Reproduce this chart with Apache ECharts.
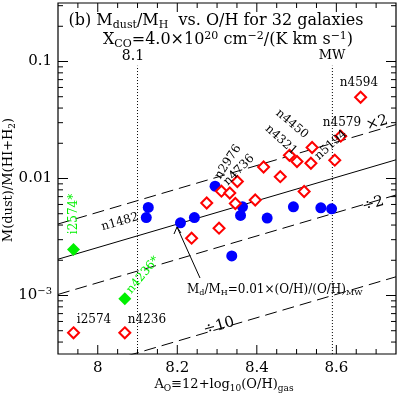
<!DOCTYPE html>
<html><head><meta charset="utf-8">
<script src="https://cdn.jsdelivr.net/npm/echarts/dist/echarts.min.js"></script>
<style>html,body{margin:0;padding:0;background:#fff}#c{width:397px;height:397px}</style>
</head><body><div id="c"></div>
<script>
// ---- data (12+log10(O/H), Mdust/M(HI+H2)) ----
const blueOH    = [8.127, 8.122, 8.208, 8.243, 8.295, 8.364, 8.359, 8.426, 8.492, 8.561, 8.588, 8.337];
const blueRatio = [0.00566, 0.00464, 0.00418, 0.00464, 0.00859, 0.00573, 0.00483, 0.00459, 0.00573, 0.00562, 0.00551, 0.00218];
const redOH     = [8.274, 8.311, 8.332, 8.351, 8.346, 8.305, 8.236, 8.396, 8.417, 8.459, 8.519, 8.482, 8.501, 8.536, 8.539, 8.596, 8.611, 8.661, 7.939, 8.068];
const redRatio  = [0.00617, 0.00779, 0.00752, 0.00943, 0.00611, 0.00376, 0.00309, 0.00655, 0.01254, 0.01036, 0.00774, 0.01579, 0.01397, 0.01349, 0.0184, 0.01434, 0.0230, 0.0495, 0.00048, 0.00048];
const greenOH    = [7.939, 8.068];
const greenRatio = [0.00247, 0.000937];
// reference relation Md/MH = 0.01 (O/H)/(O/H)_MW and factors x2, /2, /10
const refOH      = [7.9, 8.75];
const refRatio   = [0.002042, 0.014454];
const x2Ratio    = [0.004083, 0.028907];
const halfRatio  = [0.001021, 0.007227];
const tenthRatio = [0.0002042, 0.0014454];
const vLineOH81 = [8.1, 8.1];
const vLineOHMW = [8.59, 8.59];
const vLineRatio = [0.000316, 0.092];
// ticks
const xTickLabels = [8, 8.2, 8.4, 8.6];
const xMajorTicks = [8.0, 8.2, 8.4, 8.6];
const xMinorTicks = [7.95, 8.05, 8.1, 8.15, 8.25, 8.3, 8.35, 8.45, 8.5, 8.55, 8.65, 8.7];
const yMajorTicks = [0.001, 0.01, 0.1];
const yMinorTicks = [0.0004,0.0005,0.0006,0.0007,0.0008,0.0009,0.002,0.003,0.004,0.005,0.006,0.007,0.008,0.009,0.02,0.03,0.04,0.05,0.06,0.07,0.08,0.09,0.2,0.3];

const FF = '"DejaVu Serif", serif';
const GREEN = '#00f000';
const chart = echarts.init(document.getElementById('c'), null, {renderer:'canvas'});
const zip = (a,b) => a.map((v,i)=>[v,b[i]]);

function xTickSeries(vals, len){
  return {type:'custom', silent:true, clip:false, z:5,
    data: vals.map(v=>[v,0.01]),
    renderItem(params, api){
      const cs = params.coordSys;
      const x = api.coord([api.value(0), 0.01])[0];
      const st = {stroke:'#000', lineWidth:1};
      return {type:'group', children:[
        {type:'line', shape:{x1:x,y1:cs.y+cs.height,x2:x,y2:cs.y+cs.height-len}, style:st},
        {type:'line', shape:{x1:x,y1:cs.y,x2:x,y2:cs.y+len}, style:st}]};
    }};
}
function yTickSeries(vals, len){
  return {type:'custom', silent:true, clip:false, z:5,
    data: vals.map(v=>[8.2,v]),
    renderItem(params, api){
      const cs = params.coordSys;
      const y = api.coord([8.2, api.value(1)])[1];
      const st = {stroke:'#000', lineWidth:1};
      return {type:'group', children:[
        {type:'line', shape:{x1:cs.x,y1:y,x2:cs.x+len,y2:y}, style:st},
        {type:'line', shape:{x1:cs.x+cs.width,y1:y,x2:cs.x+cs.width-len,y2:y}, style:st}]};
    }};
}
function txt(x,y,text,opt){
  opt = opt||{};
  const size = opt.size||12;
  const col = opt.color||'#000';
  const ss = Math.round(size*0.66);
  const r = {
    sub:{fontFamily:FF, fontSize:ss, padding:[Math.round(size*0.5),0,0,0], fill:col},
    sup:{fontFamily:FF, fontSize:ss, padding:[0,0,Math.round(size*0.5),0], fill:col}
  };
  return {type:'text', x, y, rotation:(opt.rot||0)*Math.PI/180, z:20, silent:true,
    style:{text, fill:col, fontFamily:FF, fontSize:size,
      align:opt.align||'center', textAlign:opt.align||'center',
      verticalAlign:'middle', textVerticalAlign:'middle', rich:r}};
}
function lineS(xs, ys, type, width){
  return {type:'line', data: zip(xs,ys), symbol:'none', silent:true, z:2,
    lineStyle:{color:'#000', width: width||1, type}};
}
const option = {
  animation:false,
  grid:{left:58, top:3, right:1, bottom:43, show:true, borderColor:'#000', borderWidth:1.2},
  xAxis:{type:'value', min:7.9, max:8.75, interval:0.05,
    axisLine:{show:false}, axisTick:{show:false}, splitLine:{show:false},
    axisLabel:{margin:7, fontFamily:FF, fontSize:15, color:'#000', showMinLabel:false, showMaxLabel:false,
      formatter:v=>{ const m = xTickLabels.find(t=>Math.abs(t-v)<1e-6); return m===undefined?'':String(m);} }},
  yAxis:{type:'log', logBase:10, min:Math.pow(10,-3.5), max:Math.pow(10,-0.5),
    axisLine:{show:false}, axisTick:{show:false}, splitLine:{show:false},
    axisLabel:{margin:6, fontFamily:FF, fontSize:15, color:'#000', showMinLabel:false, showMaxLabel:false,
      rich:{sup:{fontFamily:FF, fontSize:10, padding:[0,0,8,0], color:'#000'}, b:{fontFamily:FF,fontSize:15,color:'#000'}},
      formatter:v=>{
        const l = Math.log10(v);
        if (Math.abs(l+1)<1e-6) return '0.1';
        if (Math.abs(l+2)<1e-6) return '0.01';
        if (Math.abs(l+3)<1e-6) return '{b|10}{sup|−3}';
        return '';
      }}},
  series:[
    lineS(refOH, refRatio, 'solid', 1),
    lineS(refOH, x2Ratio, [12,6], 1),
    lineS(refOH, halfRatio, [12,6], 1),
    lineS(refOH, tenthRatio, [12,6], 1),
    lineS(vLineOH81, vLineRatio, [1,2], 1),
    lineS(vLineOHMW, vLineRatio, [1,2], 1),
    {type:'scatter', data:zip(blueOH, blueRatio), symbol:'circle', symbolSize:11, z:10,
      itemStyle:{color:'#0000ff', opacity:1}},
    {type:'scatter', data:zip(redOH, redRatio), symbol:'diamond', symbolSize:11, z:11,
      itemStyle:{color:'#ffffff', borderColor:'#ff0000', borderWidth:2, opacity:1}},
    {type:'scatter', data:zip(greenOH, greenRatio), symbol:'diamond', symbolSize:13, z:11,
      itemStyle:{color:GREEN, opacity:1}},
    xTickSeries(xMajorTicks, 9), xTickSeries(xMinorTicks, 5),
    yTickSeries(yMajorTicks, 10), yTickSeries(yMinorTicks, 5)
  ],
  graphic:[
    txt(216,21,'(b) M{sub|dust}/M{sub|H}  vs. O/H for 32 galaxies',{size:16}),
    txt(228,40,'X{sub|CO}=4.0×10{sup|20} cm{sup|−2}/(K km s{sup|−1})',{size:16}),
    txt(133,56,'8.1',{size:14}),
    txt(332,56,'MW',{size:13}),
    txt(359,83,'n4594',{size:12}),
    txt(342,123,'n4579',{size:12}),
    txt(377,123,'×2',{size:15, rot:16}),
    txt(292,124,'n4450',{size:12, rot:-40}),
    txt(281,140,'n4321',{size:12, rot:-42}),
    txt(331,145,'n5194',{size:12, rot:42}),
    txt(228,162,'n2976',{size:12, rot:57}),
    txt(239,170,'n4736',{size:12, rot:45}),
    txt(120,222,'n1482',{size:12, rot:16}),
    txt(74,214,'i2574*',{size:12, rot:90, color:GREEN}),
    txt(143,275,'n4236*',{size:12, rot:50, color:GREEN}),
    txt(94,320,'i2574',{size:12}),
    txt(147,320,'n4236',{size:12}),
    txt(373,204,'÷2',{size:15, rot:16}),
    txt(219,326,'÷10',{size:15, rot:16}),
    txt(187,290,'M{sub|d}/M{sub|H}=0.01×(O/H)/(O/H){sub|MW}',{size:12, align:'left'}),
    {type:'polyline', z:20, silent:true, shape:{points:[[200,278],[177,227]]}, style:{stroke:'#000', lineWidth:1, fill:null}},
    {type:'polyline', z:20, silent:true, shape:{points:[[174,234],[177,227],[181,233]]}, style:{stroke:'#000', lineWidth:1, fill:null}},
    txt(9,180,'M(dust)/M(HI+H{sub|2})',{size:13, rot:90}),
    txt(224,385,'A{sub|O}≡12+log{sub|10}(O/H){sub|gas}',{size:13})
  ]
};
chart.setOption(option);
</script>
</body></html>
